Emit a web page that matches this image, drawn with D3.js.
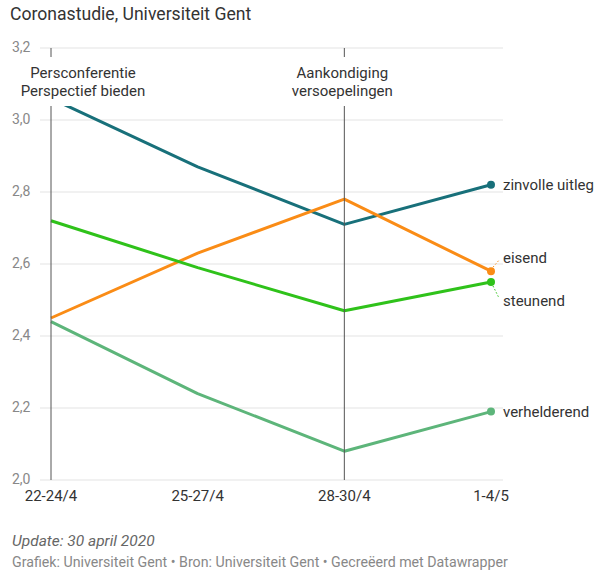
<!DOCTYPE html>
<html>
<head>
<meta charset="utf-8">
<script src="https://cdn.jsdelivr.net/npm/d3@7"></script>
<style>
  body { margin: 0; background: #fff; font-family: Roboto, sans-serif; }
  svg text { font-family: Roboto, sans-serif; }
</style>
</head>
<body>
<script>
// data
var periods = ["22-24/4", "25-27/4", "28-30/4", "1-4/5"];
var yTicks = [2.0, 2.2, 2.4, 2.6, 2.8, 3.0, 3.2];

var zinvolle = [3.06, 2.87, 2.71, 2.82];
var eisend = [2.45, 2.63, 2.78, 2.58];
var steunend = [2.72, 2.59, 2.47, 2.55];
var verhelderend = [2.44, 2.24, 2.08, 2.19];

var seriesNames = ["zinvolle uitleg", "eisend", "steunend", "verhelderend"];
var colors = ["#18707a", "#fa8c16", "#2fc21a", "#5db57a"];
var series = [zinvolle, eisend, steunend, verhelderend];

var annotations = [
  { at: "22-24/4", lines: ["Persconferentie", "Perspectief bieden"], dx: 32 },
  { at: "28-30/4", lines: ["Aankondiging", "versoepelingen"], dx: -2 }
];

var width = 605, height = 573;

var svg = d3.select("body").append("svg")
  .attr("width", width)
  .attr("height", height);

var x = d3.scalePoint().domain(periods).range([51, 491]);
var y = d3.scaleLinear().domain([2.0, 3.2]).range([480, 48]);

// title
svg.append("text")
  .attr("x", 10).attr("y", 20)
  .attr("font-size", 17.6)
  .attr("fill", "#333")
  .text("Coronastudie, Universiteit Gent");

// grid
svg.append("g").selectAll("line")
  .data(yTicks)
  .enter().append("line")
  .attr("x1", 40).attr("x2", 503)
  .attr("y1", function(d) { return y(d); })
  .attr("y2", function(d) { return y(d); })
  .attr("stroke", "#e3e3e3")
  .attr("stroke-width", 1);

svg.append("g").selectAll("text")
  .data(yTicks)
  .enter().append("text")
  .attr("x", 12)
  .attr("y", function(d) { return y(d); })
  .attr("dy", "0.3em")
  .attr("font-size", 14)
  .attr("fill", "#888")
  .text(function(d) { return d3.format(".1f")(d).replace(".", ","); });

// x axis labels
svg.append("g").selectAll("text")
  .data(periods)
  .enter().append("text")
  .attr("x", function(d) { return x(d); })
  .attr("y", 501)
  .attr("text-anchor", "middle")
  .attr("font-size", 15)
  .attr("fill", "#333")
  .text(function(d) { return d; });

// lines
var line = d3.line()
  .x(function(d, i) { return x(periods[i]); })
  .y(function(d) { return y(d); });

svg.append("g").selectAll("path")
  .data(series)
  .enter().append("path")
  .attr("d", line)
  .attr("fill", "none")
  .attr("stroke", function(d, i) { return colors[i]; })
  .attr("stroke-width", 3)
  .attr("stroke-linejoin", "round");

// annotation vertical lines with label boxes
annotations.forEach(function(a) {
  var ax = x(a.at);
  svg.append("line")
    .attr("x1", ax).attr("x2", ax)
    .attr("y1", y(3.2)).attr("y2", y(2.0))
    .attr("stroke", "#555")
    .attr("stroke-width", 1);
  var cx = ax + a.dx;
  svg.append("rect")
    .attr("x", cx - 68).attr("y", 57)
    .attr("width", 136).attr("height", 49)
    .attr("fill", "#fff");
  a.lines.forEach(function(t, i) {
    svg.append("text")
      .attr("x", cx)
      .attr("y", 78 + i * 18)
      .attr("text-anchor", "middle")
      .attr("font-size", 15)
      .attr("fill", "#333")
      .text(t);
  });
});

// end dots
var last = periods.length - 1;
svg.append("g").selectAll("circle")
  .data(series)
  .enter().append("circle")
  .attr("cx", x(periods[last]))
  .attr("cy", function(d) { return y(d[last]); })
  .attr("r", 4)
  .attr("fill", function(d, i) { return colors[i]; });

// end labels, eisend/steunend nudged apart with dotted connectors
var labelOffset = [0, -13, 19, 0];
series.forEach(function(s, i) {
  var px = x(periods[last]), py = y(s[last]);
  var ly = py + labelOffset[i];
  if (labelOffset[i] !== 0) {
    svg.append("line")
      .attr("x1", px + 2).attr("y1", py + (labelOffset[i] < 0 ? -4 : 4))
      .attr("x2", px + 8).attr("y2", ly + (labelOffset[i] < 0 ? 2 : -3))
      .attr("stroke", colors[i])
      .attr("stroke-width", 1)
      .attr("stroke-dasharray", "1.5,2");
  }
  svg.append("text")
    .attr("x", 503)
    .attr("y", ly)
    .attr("dy", "0.35em")
    .attr("font-size", 15)
    .attr("fill", "#333")
    .text(seriesNames[i]);
});

// footer
svg.append("text")
  .attr("x", 12).attr("y", 546)
  .attr("font-size", 15.5)
  .attr("font-style", "italic")
  .attr("fill", "#666")
  .text("Update: 30 april 2020");

svg.append("text")
  .attr("x", 12).attr("y", 567)
  .attr("font-size", 14.2)
  .attr("fill", "#888")
  .text("Grafiek: Universiteit Gent \u2022 Bron: Universiteit Gent \u2022 Gecreëerd met Datawrapper");
</script>
</body>
</html>
